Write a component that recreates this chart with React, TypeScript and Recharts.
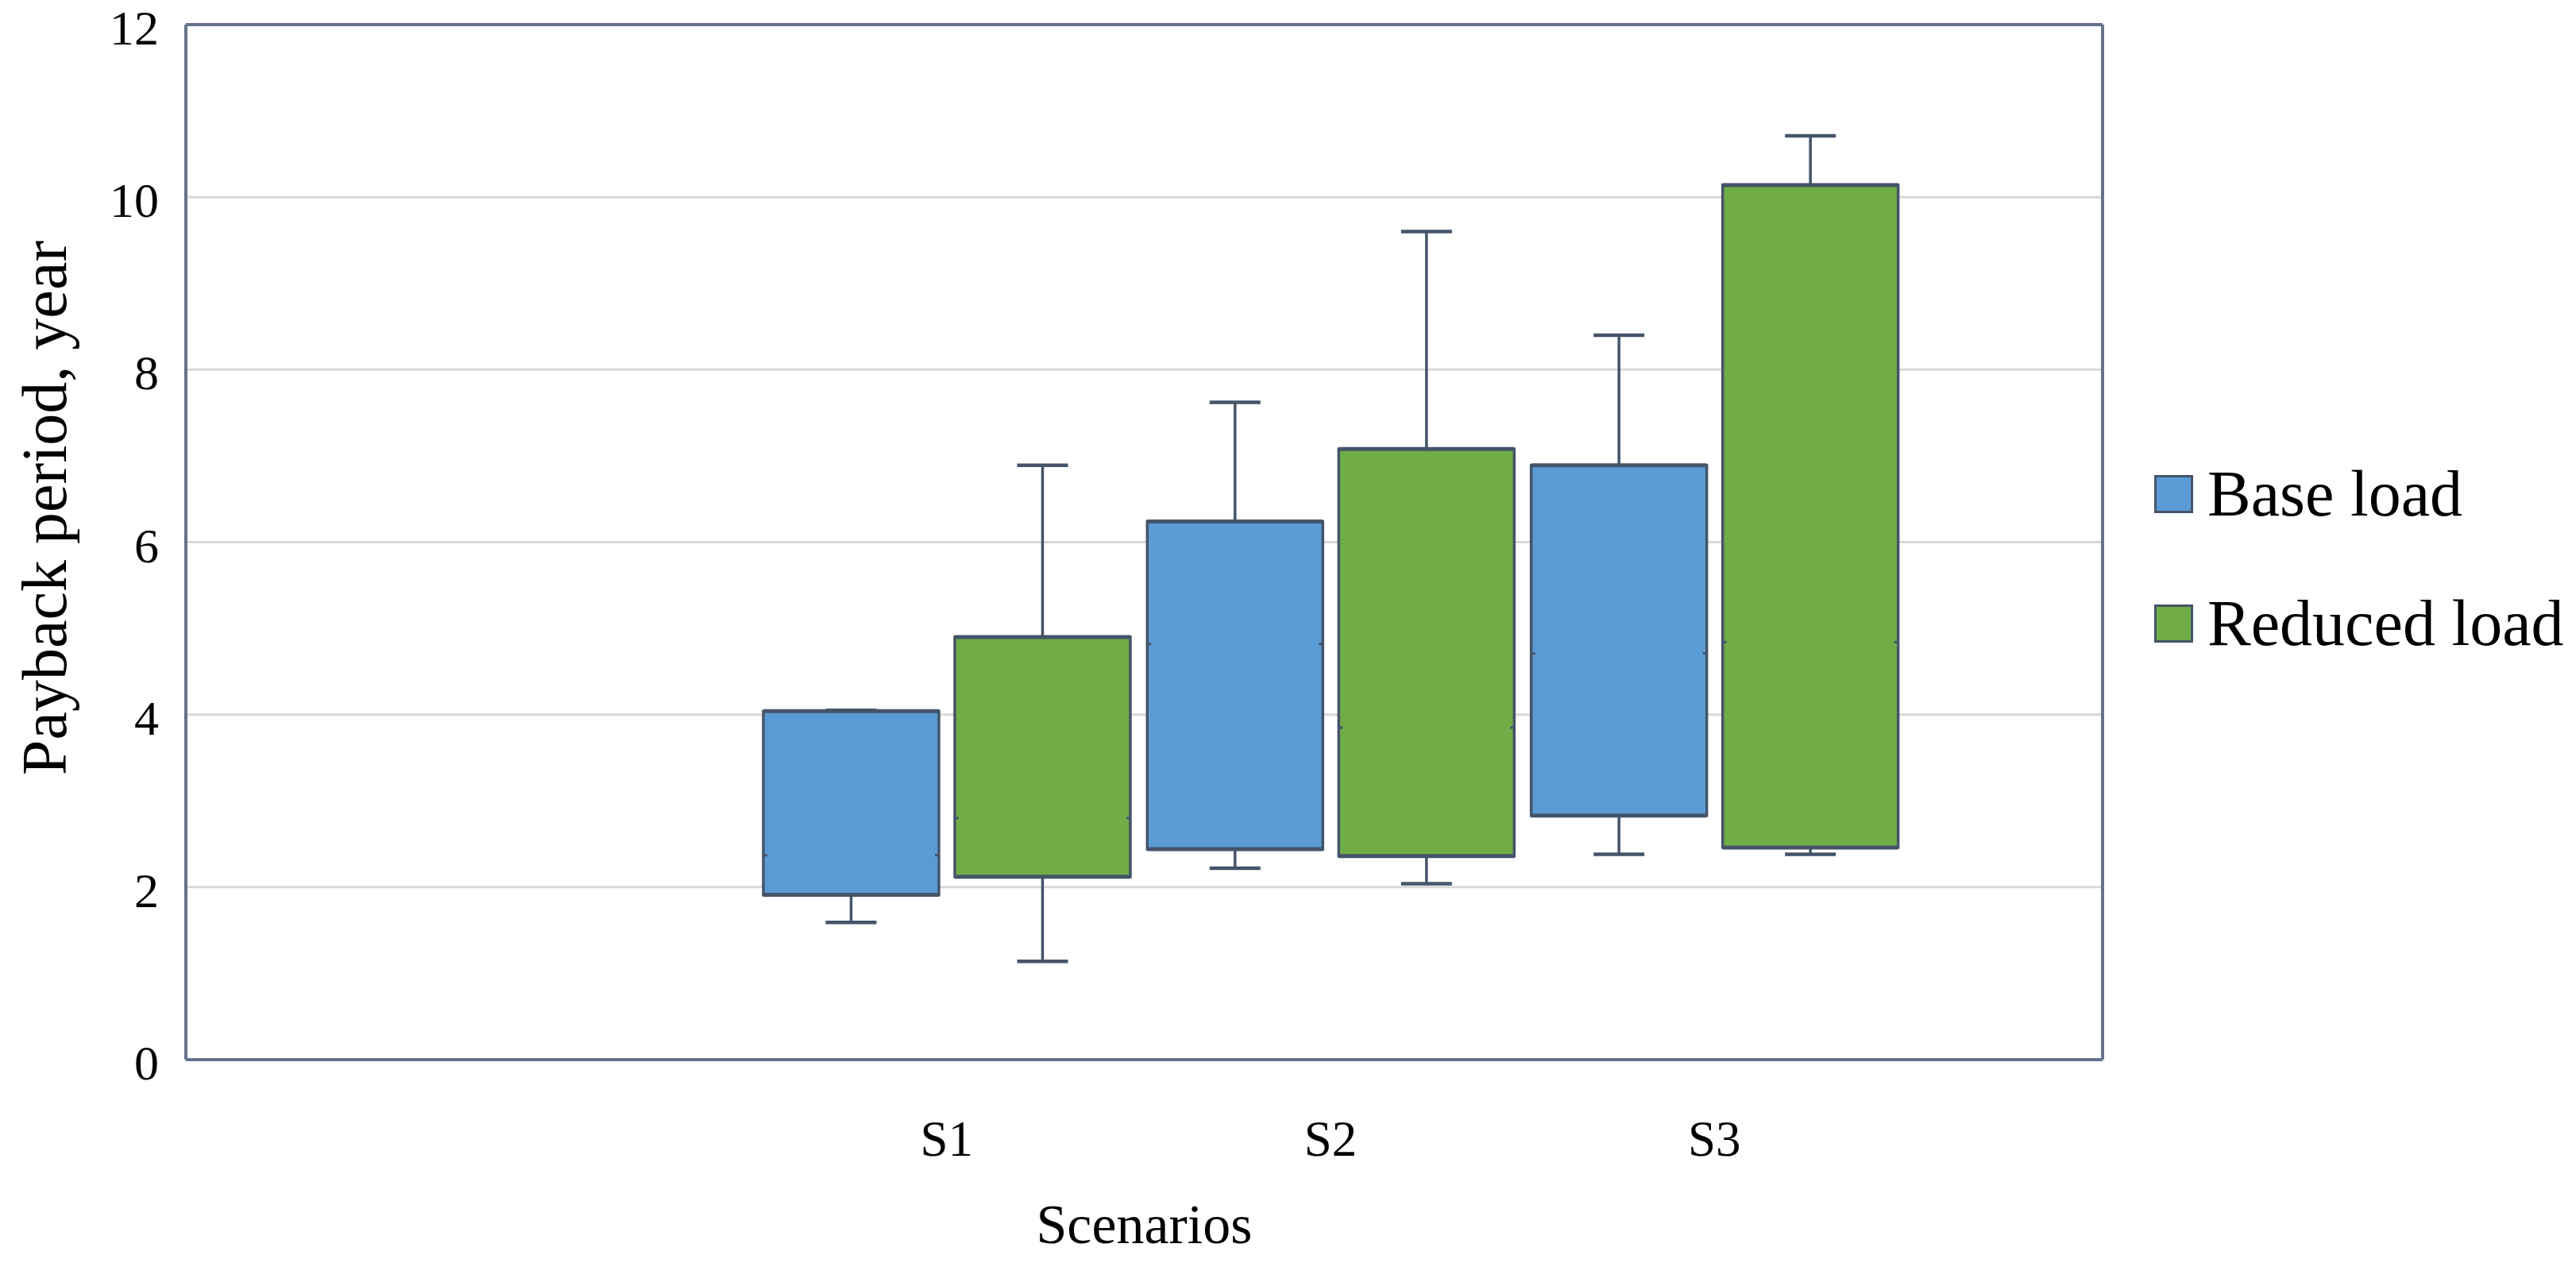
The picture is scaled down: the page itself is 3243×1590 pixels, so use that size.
import React from "react";
import { BarChart, Bar, XAxis, YAxis, CartesianGrid, Legend } from "recharts";

const scenarios = ["S1", "S2", "S3"];

const baseMin = [1.59, 2.22, 2.38];
const baseQ1 = [1.91, 2.44, 2.83];
const baseMedian = [2.37, 4.82, 4.71];
const baseQ3 = [4.04, 6.24, 6.89];
const baseMax = [4.05, 7.62, 8.4];

const reducedMin = [1.14, 2.04, 2.38];
const reducedQ1 = [2.12, 2.36, 2.46];
const reducedMedian = [2.8, 3.85, 4.84];
const reducedQ3 = [4.9, 7.08, 10.14];
const reducedMax = [6.89, 9.6, 10.71];

const yTicks = [0, 2, 4, 6, 8, 10, 12];

const data = scenarios.map((s, i) => ({
  scenario: s,
  baseMin: baseMin[i],
  baseQ1: baseQ1[i],
  baseMedian: baseMedian[i],
  baseQ3: baseQ3[i],
  baseMax: baseMax[i],
  reducedMin: reducedMin[i],
  reducedQ1: reducedQ1[i],
  reducedMedian: reducedMedian[i],
  reducedQ3: reducedQ3[i],
  reducedMax: reducedMax[i],
}));

const FONT = '"Liberation Serif", "Times New Roman", serif';
const EDGE = "#44546a";
const FRAME = "#65738c";
const BLUE = "#5b9bd5";
const GREEN = "#70ad47";

// draws whiskers + box inside the [min, max] range bar that recharts positions for us
const makeBox = (key: string) => (props: any) => {
  const { x, y, width, height, payload, fill } = props;
  const vMin = payload[key + "Min"];
  const vMax = payload[key + "Max"];
  const top = Math.min(y, y + height);
  const bot = Math.max(y, y + height);
  const py = (v: number) => bot - ((bot - top) * (v - vMin)) / (vMax - vMin || 1);
  const cx = x + width / 2;
  const yQ1 = py(payload[key + "Q1"]);
  const yQ3 = py(payload[key + "Q3"]);
  const yMed = py(payload[key + "Median"]);
  const cap = 32;
  return (
    <g>
      <line x1={cx} x2={cx} y1={top} y2={yQ3} stroke={EDGE} strokeWidth={3.5} />
      <line x1={cx} x2={cx} y1={yQ1} y2={bot} stroke={EDGE} strokeWidth={3.5} />
      <line x1={cx - cap} x2={cx + cap} y1={top} y2={top} stroke={EDGE} strokeWidth={4.5} />
      <line x1={cx - cap} x2={cx + cap} y1={bot} y2={bot} stroke={EDGE} strokeWidth={4.5} />
      <rect x={x} y={yQ3} width={width} height={yQ1 - yQ3} fill={fill} stroke={EDGE} strokeWidth={3.5} />
      <line x1={x} x2={x + width} y1={yQ3} y2={yQ3} stroke={EDGE} strokeWidth={5} />
      <line x1={x} x2={x + width} y1={yQ1} y2={yQ1} stroke={EDGE} strokeWidth={5} />
      <line x1={x} x2={x + 5} y1={yMed} y2={yMed} stroke={EDGE} strokeWidth={3} />
      <line x1={x + width - 5} x2={x + width} y1={yMed} y2={yMed} stroke={EDGE} strokeWidth={3} />
    </g>
  );
};

const renderLegend = (props: any) => {
  const { payload } = props;
  return (
    <div>
      {(payload || []).map((p: any, i: number) => (
        <div
          key={p.value}
          style={{ display: "flex", alignItems: "center", height: 82, marginBottom: i === 0 ? 81 : 0 }}
        >
          <div
            style={{
              width: 43,
              height: 42,
              background: p.color,
              border: `3px solid ${EDGE}`,
              marginRight: 18,
              flexShrink: 0,
            }}
          />
          <span style={{ fontFamily: FONT, fontSize: 82, lineHeight: "82px", color: "#000", whiteSpace: "nowrap" }}>
            {p.value}
          </span>
        </div>
      ))}
    </div>
  );
};

const renderYTitle = (props: any) => {
  const vb = props.viewBox || { y: 31, height: 1303 };
  const bx = 83;
  const cy = vb.y + vb.height / 2 - 43;
  return (
    <text
      x={bx}
      y={cy}
      transform={`rotate(-90 ${bx} ${cy})`}
      textAnchor="middle"
      fontFamily={FONT}
      fontSize={80}
      fill="#000"
    >
      Payback period, year
    </text>
  );
};

export default function App() {
  return (
    <div style={{ width: 3243, height: 1590, background: "#fff" }}>
      <style>{"body{margin:0;}"}</style>
      <BarChart
        width={3243}
        height={1590}
        data={data}
        margin={{ top: 31, right: 596, bottom: 0, left: 0 }}
        barGap={20}
      >
        <CartesianGrid horizontal vertical={false} stroke="#d9d9d9" strokeWidth={3} />
        {/* plot frame: top and right edges */}
        <CartesianGrid
          horizontal
          vertical
          horizontalCoordinatesGenerator={({ offset }: any) => [offset.top]}
          verticalCoordinatesGenerator={({ offset }: any) => [offset.left + offset.width]}
          stroke={FRAME}
          strokeWidth={4}
        />
        <XAxis
          dataKey="scenario"
          height={256}
          padding={{ left: 716, right: 247 }}
          tickLine={false}
          tickSize={0}
          tickMargin={76}
          axisLine={{ stroke: FRAME, strokeWidth: 4 }}
          tick={{ fontSize: 63, fill: "#000", fontFamily: FONT }}
          label={{ value: "Scenarios", position: "insideBottom", offset: 25, fontSize: 70, fill: "#000", fontFamily: FONT }}
        />
        <YAxis
          width={234}
          domain={[0, 12]}
          ticks={yTicks}
          interval={0}
          tickLine={false}
          tickSize={0}
          tickMargin={34}
          axisLine={{ stroke: FRAME, strokeWidth: 4 }}
          tick={{ fontSize: 62, fill: "#000", fontFamily: FONT, dy: 3 }}
          label={renderYTitle}
        />
        <Legend
          align="center"
          verticalAlign="middle"
          layout="vertical"
          content={renderLegend}
          wrapperStyle={{ left: 2712, top: 581, width: 531 }}
        />
        <Bar
          name="Base load"
          dataKey={(d: any) => [d.baseMin, d.baseMax]}
          fill={BLUE}
          barSize={221}
          legendType="square"
          shape={makeBox("base")}
          isAnimationActive={false}
        />
        <Bar
          name="Reduced load"
          dataKey={(d: any) => [d.reducedMin, d.reducedMax]}
          fill={GREEN}
          barSize={221}
          legendType="square"
          shape={makeBox("reduced")}
          isAnimationActive={false}
        />
      </BarChart>
    </div>
  );
}
